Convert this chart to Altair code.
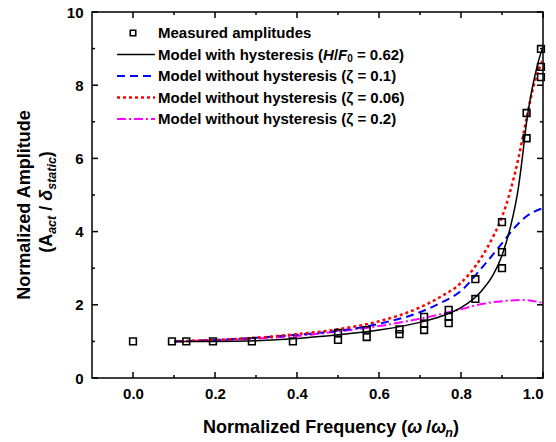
import altair as alt
import pandas as pd

# ---------------- data ----------------
meas_x = [0.0, 0.095, 0.13, 0.195, 0.29, 0.39, 0.5, 0.5, 0.57, 0.57, 0.65, 0.65,
          0.71, 0.71, 0.71, 0.77, 0.77, 0.77, 0.835, 0.835, 0.9, 0.9, 0.9,
          0.96, 0.96, 0.995, 0.995, 0.995]
meas_y = [1.0, 1.0, 1.0, 1.0, 1.0, 1.0, 1.23, 1.04, 1.31, 1.12, 1.33, 1.2,
          1.67, 1.48, 1.31, 1.86, 1.67, 1.5, 2.7, 2.16, 4.26, 3.44, 3.0,
          7.24, 6.55, 8.99, 8.5, 8.22]

hyst_x = [0.1, 0.2, 0.3, 0.4, 0.5, 0.6, 0.7, 0.75, 0.8, 0.85, 0.88, 0.9, 0.92, 0.94, 0.95, 0.96, 0.97, 0.98, 0.99, 1.0]
hyst_y = [1.0, 1.0, 1.02, 1.08, 1.18, 1.31, 1.52, 1.68, 1.92, 2.38, 2.85, 3.35, 4.1, 5.2, 6.05, 7.0, 7.7, 8.25, 8.7, 9.05]

z01_x = [0.1, 0.2, 0.3, 0.4, 0.5, 0.6, 0.7, 0.75, 0.8, 0.85, 0.9, 0.93, 0.96, 1.0]
z01_y = [1.0, 1.04, 1.1, 1.18, 1.29, 1.48, 1.8, 2.05, 2.38, 3.0, 3.68, 4.1, 4.42, 4.64]

z006_x = [0.1, 0.2, 0.3, 0.4, 0.5, 0.6, 0.7, 0.75, 0.8, 0.85, 0.88, 0.9, 0.92, 0.94, 0.96, 0.98, 1.0]
z006_y = [1.0, 1.04, 1.1, 1.2, 1.33, 1.55, 1.93, 2.22, 2.6, 3.3, 3.9, 4.4, 5.1, 6.0, 7.1, 8.1, 8.7]

z02_x = [0.1, 0.2, 0.3, 0.4, 0.5, 0.6, 0.7, 0.8, 0.85, 0.9, 0.95, 1.0]
z02_y = [1.0, 1.03, 1.08, 1.15, 1.27, 1.42, 1.62, 1.88, 2.02, 2.1, 2.13, 2.05]

x_major = [0.0, 0.2, 0.4, 0.6, 0.8, 1.0]
x_minor = [0.1, 0.3, 0.5, 0.7, 0.9]
y_major = [0, 2, 4, 6, 8, 10]
y_minor = [1, 3, 5, 7, 9]

legend_labels = ["Measured amplitudes",
                 "Model with hysteresis (",
                 "Model without hysteresis (ζ = 0.1)",
                 "Model without hysteresis (ζ = 0.06)",
                 "Model without hysteresis (ζ = 0.2)"]

# ---------------- layout ----------------
W, H = 451, 366
FONT = "Liberation Sans"
XS = alt.Scale(domain=[-0.1, 1.0], nice=False, zero=False)
YS = alt.Scale(domain=[0, 10], nice=False, zero=True)

WB = {' ': 278, '(': 333, ')': 333, '/': 278, '=': 584, '.': 278,
      'A': 722, 'F': 611, 'H': 722, 'M': 833, 'N': 722,
      'a': 556, 'c': 556, 'd': 611, 'e': 556, 'h': 611, 'i': 278, 'l': 278,
      'm': 889, 'n': 611, 'o': 611, 'p': 611, 'q': 611, 'r': 389, 's': 556,
      't': 333, 'u': 611, 'w': 778, 'y': 556, 'z': 500,
      'ω': 780, 'δ': 611, 'ζ': 500}


def tw(s, size):
    return sum(WB.get(c, 556 if c.isdigit() else 600) for c in s) * size / 1000.0


def pieces_layers(pieces, x0, y0, angle=0):
    """pieces: list of (text, size, italic, dy). Laid out along text direction."""
    out = []
    off = 0.0
    for txt, size, ital, dy in pieces:
        lead = len(txt) - len(txt.lstrip(" "))
        start = off + tw(" " * lead, size)
        kw = dict(text=txt.strip(" "), fontSize=size, fontWeight="bold", font=FONT,
                  align="left", baseline="middle", dx=start, dy=dy, color="black")
        if ital:
            kw["fontStyle"] = "italic"
        if angle:
            kw["angle"] = angle
        out.append(alt.Chart(pd.DataFrame({"k": [0]})).mark_text(**kw).encode(
            x=alt.value(x0), y=alt.value(y0)))
        off += tw(txt, size)
    return out


def total_w(pieces):
    return sum(tw(t, s) for t, s, _, _ in pieces)


# ---------------- data layers ----------------
x_axis = alt.Axis(values=x_major, format=".1f", ticks=False, domain=False, grid=False,
                  labelFont=FONT, labelFontSize=15, labelFontWeight="bold",
                  labelColor="black", labelPadding=8, title=None)
y_axis = alt.Axis(values=y_major, format="d", ticks=False, domain=False, grid=False,
                  labelFont=FONT, labelFontSize=15, labelFontWeight="bold",
                  labelColor="black", labelPadding=9, title=None)


def curve(xs, ys, color, dash, sw):
    df = pd.DataFrame({"x": xs, "y": ys})
    kw = dict(color=color, strokeWidth=sw, interpolate="monotone", clip=True)
    if dash:
        kw["strokeDash"] = dash
    return alt.Chart(df).mark_line(**kw).encode(
        x=alt.X("x:Q", scale=XS, axis=x_axis), y=alt.Y("y:Q", scale=YS, axis=y_axis))


c_z02 = curve(z02_x, z02_y, "#ff00ff", [9, 3, 2, 3], 2)
c_z01 = curve(z01_x, z01_y, "#0000ff", [8, 5], 2)
c_z006 = curve(z006_x, z006_y, "#ff0000", [3, 3], 2.5)
c_hyst = curve(hyst_x, hyst_y, "black", None, 1.5)

pts = alt.Chart(pd.DataFrame({"x": meas_x, "y": meas_y})).mark_point(
    shape="square", filled=False, color="black", strokeWidth=1.6, size=45, opacity=1
).encode(x=alt.X("x:Q", scale=XS), y=alt.Y("y:Q", scale=YS))

# ---------------- inward ticks ----------------
def xticks(vals, length):
    df = pd.DataFrame({"x": vals})
    b = alt.Chart(df).mark_rule(color="black", strokeWidth=1.5).encode(
        x=alt.X("x:Q", scale=XS), y=alt.value(H), y2=alt.value(H - length))
    t = alt.Chart(df).mark_rule(color="black", strokeWidth=1.5).encode(
        x=alt.X("x:Q", scale=XS), y=alt.value(0), y2=alt.value(length))
    return [b, t]


def yticks(vals, length):
    df = pd.DataFrame({"y": vals})
    l = alt.Chart(df).mark_rule(color="black", strokeWidth=1.5).encode(
        y=alt.Y("y:Q", scale=YS), x=alt.value(0), x2=alt.value(length))
    r = alt.Chart(df).mark_rule(color="black", strokeWidth=1.5).encode(
        y=alt.Y("y:Q", scale=YS), x=alt.value(W), x2=alt.value(W - length))
    return [l, r]


ticks = xticks(x_major, 6) + xticks(x_minor, 3) + yticks(y_major, 6) + yticks(y_minor, 3)

# ---------------- legend ----------------
leg_y = [21, 42.5, 64, 85.5, 107]
LX0, LX1, LTX = 25, 63, 66
leg = []
leg.append(alt.Chart(pd.DataFrame({"k": [0]})).mark_point(
    shape="square", filled=False, color="black", strokeWidth=1.6, size=30, opacity=1
).encode(x=alt.value((LX0 + LX1) / 2 - 3), y=alt.value(leg_y[0])))
styles = [("black", None, 1.5), ("#0000ff", [8, 5], 2), ("#ff0000", [3, 3], 2.5),
          ("#ff00ff", [9, 3, 2, 3], 2)]
for i, (col, dash, sw) in enumerate(styles):
    kw = dict(color=col, strokeWidth=sw)
    if dash:
        kw["strokeDash"] = dash
    leg.append(alt.Chart(pd.DataFrame({"k": [0]})).mark_rule(**kw).encode(
        x=alt.value(LX0), x2=alt.value(LX1), y=alt.value(leg_y[i + 1])))
for i, lab in enumerate(legend_labels):
    if i == 1:
        pcs = [(lab, 15, False, 0), ("H", 15, True, 0), ("/", 15, False, 0),
               ("F", 15, True, 0), ("0", 10, False, 4), (" = 0.62)", 15, False, 0)]
    else:
        pcs = [(lab, 15, False, 0)]
    leg += pieces_layers(pcs, LTX, leg_y[i])

# ---------------- axis titles ----------------
ytitle1 = alt.Chart(pd.DataFrame({"k": [0]})).mark_text(
    text="Normalized Amplitude", angle=270, align="center", baseline="middle",
    fontSize=18, fontWeight="bold", font=FONT, color="black"
).encode(x=alt.value(-67), y=alt.value(193))

yt2 = [("(A", 18, False, 0), ("act", 12.5, True, 5), (" / ", 18, False, 0),
       ("δ", 18, True, 0), ("static", 12.5, True, 5), (")", 18, False, 0)]
ytitle2 = pieces_layers(yt2, -45, 190 + total_w(yt2) / 2, angle=270)

xt = [("Normalized Frequency (", 18, False, 0), ("ω", 18, True, 0), (" /", 18, False, 0),
      ("ω", 18, True, 0), ("n", 12.5, True, 5), (")", 18, False, 0)]
xtitle = pieces_layers(xt, 239 - total_w(xt) / 2, 416)

chart = alt.layer(
    c_z02, c_z01, c_z006, c_hyst, pts, *ticks, *leg, ytitle1, *ytitle2, *xtitle
).properties(
    width=W, height=H,
    autosize=alt.AutoSizeParams(type="none"),
    padding={"left": 92, "top": 12, "right": 13, "bottom": 64},
    background="white",
).configure_view(stroke="black", strokeWidth=1.5)

chart.save("out.html", embed_options={"renderer": "svg", "actions": False})
